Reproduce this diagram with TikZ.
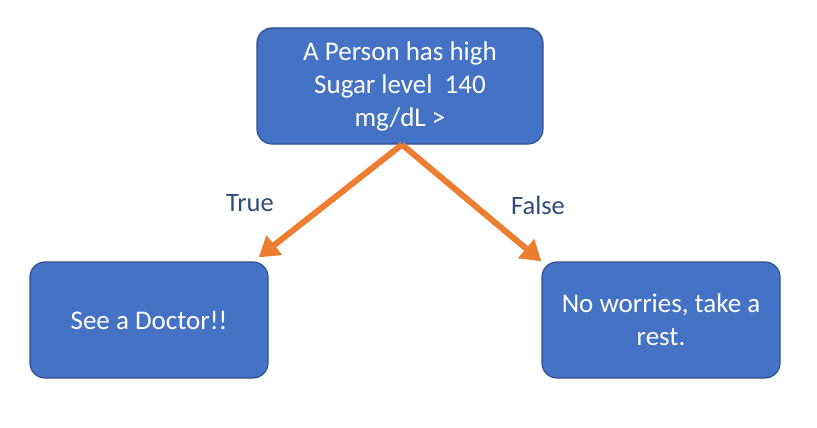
\documentclass[tikz,border=0pt]{standalone}
\usepackage{fontspec}
\setmainfont{Carlito}
\usetikzlibrary{arrows.meta}
\definecolor{boxfill}{HTML}{4472C4}
\definecolor{boxline}{HTML}{2F528F}
\definecolor{arrowc}{HTML}{ED7D31}
\definecolor{labelc}{HTML}{2F4B7C}
\begin{document}
\begin{tikzpicture}[x=1pt,y=-1pt,
    decision/.style={draw=boxline,line width=1.2pt,fill=boxfill,rounded corners=15pt,
      text=white,align=center,inner sep=0pt,font=\fontsize{27}{33}\selectfont},
    branch/.style={draw=arrowc,line width=6pt,-{Triangle[length=20pt,width=24pt]}},
    answer/.style={text=labelc,font=\fontsize{26.5}{30}\selectfont}]
    \useasboundingbox (0,0) rectangle (817,428);
    % boxes
    \node[decision,minimum width=286pt,minimum height=116pt] (sugar) at (400,86)
      {A Person has high\\Sugar level\ \ 140\\mg/dL >};
    \node[decision,minimum width=238pt,minimum height=116pt] (doctor) at (149,320)
      {See a Doctor!!};
    \node[decision,minimum width=238pt,minimum height=116pt] (rest) at (661,320)
      {No worries, take a\\rest.};
    % branches
    \draw[branch] ([xshift=2pt]sugar.south) -- ([xshift=-10pt,yshift=4pt]doctor.north east);
    \draw[branch] ([xshift=2pt]sugar.south) -- (rest.north west);
    \node[answer] (yes) at (250,203) {True};
    \node[answer] (no) at (538,205) {False};
  \end{tikzpicture}
\end{document}
